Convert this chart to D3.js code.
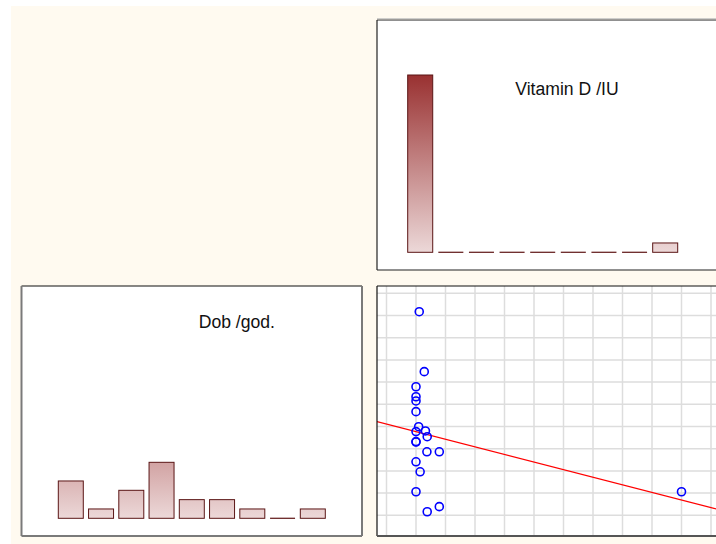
<!DOCTYPE html>
<html>
<head>
<meta charset="utf-8">
<script src="https://cdn.jsdelivr.net/npm/d3@7"></script>
<style>
  html, body { margin: 0; padding: 0; background: #ffffff; }
  svg { display: block; }
  text { font-family: "Liberation Sans", Arial, sans-serif; }
</style>
</head>
<body>
<svg id="chart" width="716" height="544"></svg>
<script>
// ---------- data ----------
const binLabels = ["1", "2", "3", "4", "5", "6", "7", "8", "9"];
const vitaminDCounts = [19, 0, 0, 0, 0, 0, 0, 0, 1];
const dobCounts = [4, 1, 3, 6, 2, 2, 1, 0, 1];
const vitaminDTitle = "Vitamin D /IU";
const dobTitle = "Dob /god.";

// scatter: x = Vitamin D (grid units), y = Dob (grid units)
const scatterX = [0.11, 0.28, 0, 0, 0, 0, 0.09, 0, 0.32, 0.38, 0, 0, 0.37, 0.79, 0, 0.14, 0, 0.38, 0.79, 9.0];
const scatterY = [9.17, 6.47, 5.79, 5.34, 5.15, 4.67, 3.99, 3.77, 3.80, 3.54, 3.32, 3.30, 2.86, 2.86, 2.41, 1.96, 1.06, 0.16, 0.39, 1.06];
const xGridTicks = [-1, 0, 1, 2, 3, 4, 5, 6, 7, 8, 9, 10];
const yGridTicks = [0, 1, 2, 3, 4, 5, 6, 7, 8, 9, 10];
const fitIntercept = 3.77;
const fitSlope = -0.342;

// ---------- drawing ----------
const svg = d3.select("#chart");
svg.append("rect").attr("x", 11).attr("y", 6).attr("width", 705).attr("height", 538).attr("fill", "#fffaf0");

const defs = svg.append("defs");

function panel(x, y, w, h) {
  const g = svg.append("g");
  g.append("rect").attr("x", x).attr("y", y).attr("width", w).attr("height", h).attr("fill", "#ffffff");
  return g;
}
function border(x, y, w, h, st) {
  const g = svg.append("g").attr("fill", "none");
  g.append("line").attr("x1", x).attr("x2", x + w).attr("y1", y).attr("y2", y).attr("stroke", st.top[0]).attr("stroke-width", st.top[1]);
  g.append("line").attr("x1", x).attr("x2", x).attr("y1", y).attr("y2", y + h).attr("stroke", st.left[0]).attr("stroke-width", st.left[1]);
  g.append("line").attr("x1", x).attr("x2", x + w).attr("y1", y + h).attr("y2", y + h).attr("stroke", st.bottom[0]).attr("stroke-width", st.bottom[1]);
  g.append("line").attr("x1", x + w).attr("x2", x + w).attr("y1", y).attr("y2", y + h).attr("stroke", st.right[0]).attr("stroke-width", st.right[1]);
}

// shared count scale (relative to baseline)
const countMax = 19;
function histogram(id, counts, px, py, pw, ph, xStart, xEnd, padInner, baseline, title, tx, ty) {
  panel(px, py, pw, ph);
  const x = d3.scaleBand().domain(binLabels).range([xStart, xEnd]).paddingInner(padInner).paddingOuter(0);
  const y = d3.scaleLinear().domain([0, countMax]).range([baseline, baseline - 177.3]);
  const grad = defs.append("linearGradient").attr("id", id)
    .attr("gradientUnits", "userSpaceOnUse")
    .attr("x1", 0).attr("x2", 0).attr("y1", y(0)).attr("y2", y(countMax));
  grad.append("stop").attr("offset", 0).attr("stop-color", "#ecd8d8");
  grad.append("stop").attr("offset", 1).attr("stop-color", "#993131");
  const g = svg.append("g");
  const data = binLabels.map((b, i) => ({ b, v: counts[i] }));
  g.selectAll("rect.bar").data(data.filter(d => d.v > 0)).join("rect")
    .attr("class", "bar")
    .attr("x", d => x(d.b)).attr("width", x.bandwidth())
    .attr("y", d => y(d.v)).attr("height", d => y(0) - y(d.v))
    .attr("fill", `url(#${id})`)
    .attr("stroke", "#5a1515").attr("stroke-width", 1);
  g.selectAll("line.zero").data(data.filter(d => d.v === 0)).join("line")
    .attr("class", "zero")
    .attr("x1", d => x(d.b)).attr("x2", d => x(d.b) + x.bandwidth())
    .attr("y1", y(0)).attr("y2", y(0))
    .attr("stroke", "#6a2525").attr("stroke-width", 1.3);
  svg.append("text").attr("x", tx).attr("y", ty).attr("font-size", 17.6).attr("fill", "#111").text(title);
}

// top-right: Vitamin D histogram
histogram("gradV", vitaminDCounts, 377, 20, 345, 250, 407.7, 677.7, 0.183, 252.3, vitaminDTitle, 515.3, 95);
border(377, 20, 345, 250, { top: ["#222", 1.2], left: ["#222", 1.2], bottom: ["#222", 1.2], right: ["#222", 1.2] });
svg.append("line").attr("x1", 377).attr("x2", 716).attr("y1", 18.8).attr("y2", 18.8).attr("stroke", "#bbb").attr("stroke-width", 1);

// bottom-left: Dob histogram
histogram("gradD", dobCounts, 21.5, 286, 340.5, 250, 58.3, 325.3, 0.174, 518.3, dobTitle, 198.7, 327.7);
border(21.5, 286, 340.5, 250, { top: ["#111", 1.2], left: ["#7a7a7a", 2], bottom: ["#7a7a7a", 2], right: ["#7a7a7a", 2] });

// bottom-right: scatter
const sx0 = 377, sy0 = 286, sw = 345, sh = 250;
panel(sx0, sy0, sw, sh);
defs.append("clipPath").attr("id", "clipS").append("rect").attr("x", sx0).attr("y", sy0).attr("width", sw).attr("height", sh);
const xs = d3.scaleLinear().domain([0, 10]).range([416, 711]);
const ys = d3.scaleLinear().domain([0, 10]).range([515.3, 293.3]);
const sg = svg.append("g").attr("clip-path", "url(#clipS)");
sg.append("g").selectAll("line").data(xGridTicks).join("line")
  .attr("x1", d => xs(d)).attr("x2", d => xs(d)).attr("y1", sy0).attr("y2", sy0 + sh)
  .attr("stroke", "#dddddd").attr("stroke-width", 1.5);
sg.append("g").selectAll("line").data(yGridTicks).join("line")
  .attr("x1", sx0).attr("x2", sx0 + sw).attr("y1", d => ys(d)).attr("y2", d => ys(d))
  .attr("stroke", "#dddddd").attr("stroke-width", 1.5);
const xd = xs.invert(sx0), xe = xs.invert(716);
sg.append("line")
  .attr("x1", xs(xd)).attr("y1", ys(fitIntercept + fitSlope * xd))
  .attr("x2", xs(xe)).attr("y2", ys(fitIntercept + fitSlope * xe))
  .attr("stroke", "#ff0000").attr("stroke-width", 1.2);
sg.append("g").selectAll("circle").data(scatterX.map((v, i) => [v, scatterY[i]])).join("circle")
  .attr("cx", d => xs(d[0])).attr("cy", d => ys(d[1])).attr("r", 4)
  .attr("fill", "none").attr("stroke", "#0000ff").attr("stroke-width", 1.6);
border(sx0, sy0, sw, sh, { top: ["#111", 1.2], left: ["#111", 1.2], bottom: ["#555", 2], right: ["#555", 2] });
</script>
</body>
</html>
